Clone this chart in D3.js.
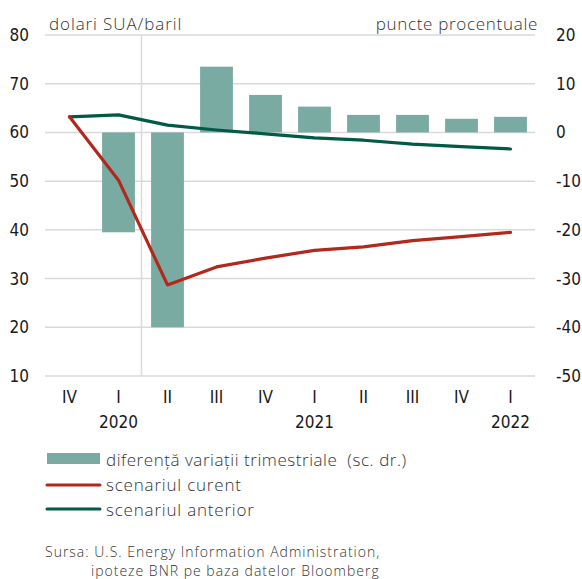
<!DOCTYPE html>
<html>
<head>
<meta charset="utf-8">
<script src="https://cdn.jsdelivr.net/npm/d3@7/dist/d3.min.js"></script>
<style>
  html, body { margin: 0; padding: 0; background: #fff; }
  svg { display: block; }
  .cond, .tick text { font-family: "DejaVu Sans", sans-serif; font-stretch: semi-condensed; }
  .light { font-family: "Open Sans", Lato, sans-serif; font-weight: 300; }
</style>
</head>
<body>
<script>
// Quarterly oil price scenarios (USD/barrel) and difference in quarterly changes (pp)
const quarters = ["IV", "I", "II", "III", "IV", "I", "II", "III", "IV", "I"];
const years = [null, "2020", null, null, null, "2021", null, null, null, "2022"];
const diffPP = [null, -20.5, -40, 13.5, 7.7, 5.3, 3.6, 3.6, 2.8, 3.2];
const currentScenario = [63.2, 50.2, 28.7, 32.4, 34.2, 35.8, 36.5, 37.8, 38.6, 39.5];
const previousScenario = [63.2, 63.6, 61.5, 60.5, 59.7, 58.9, 58.4, 57.6, 57.1, 56.6];
const leftTicks = [10, 20, 30, 40, 50, 60, 70, 80];
const rightTicks = [-50, -40, -30, -20, -10, 0, 10, 20];

const W = 582, H = 579;
const m = { left: 45, right: 47, top: 35, bottom: 203 };
const iw = W - m.left - m.right, ih = H - m.top - m.bottom;

const barColor = "#7aaba3", redColor = "#b3281d", greenColor = "#005a45";
const gridColor = "#d9d9d9", textColor = "#1a1a1a", lightText = "#333";

const svg = d3.select("body").append("svg").attr("width", W).attr("height", H);
const g = svg.append("g").attr("transform", `translate(${m.left},${m.top})`);

const idx = d3.range(quarters.length);
const x = d3.scaleBand().domain(idx).range([0, iw]).paddingInner(0.33).paddingOuter(0.165);
const xc = d3.scaleBand().domain(idx).range([0, iw]);
const yL = d3.scaleLinear().domain([10, 80]).range([ih, 0]);
const yR = d3.scaleLinear().domain([-50, 20]).range([ih, 0]);

// horizontal gridlines
g.append("g").selectAll("line").data(leftTicks).join("line")
  .attr("x1", 0).attr("x2", iw)
  .attr("y1", d => yL(d)).attr("y2", d => yL(d))
  .attr("stroke", gridColor).attr("stroke-width", 1.5);

// vertical separator between I and II 2020
g.append("line")
  .attr("x1", xc(2) - 1.5).attr("x2", xc(2) - 1.5)
  .attr("y1", 0).attr("y2", ih)
  .attr("stroke", gridColor).attr("stroke-width", 1.5);

// bars on the right axis
g.append("g").selectAll("rect").data(idx.filter(i => diffPP[i] != null)).join("rect")
  .attr("x", i => x(i)).attr("width", x.bandwidth())
  .attr("y", i => yR(Math.max(0, diffPP[i])))
  .attr("height", i => Math.abs(yR(diffPP[i]) - yR(0)))
  .attr("fill", barColor);

// lines on the left axis
const line = d3.line()
  .x((d, i) => xc(i) + xc.bandwidth() / 2)
  .y(d => yL(d));

g.append("path").datum(previousScenario).attr("d", line)
  .attr("fill", "none").attr("stroke", greenColor).attr("stroke-width", 3.2)
  .attr("stroke-linecap", "round").attr("stroke-linejoin", "round");
g.append("path").datum(currentScenario).attr("d", line)
  .attr("fill", "none").attr("stroke", redColor).attr("stroke-width", 3.2)
  .attr("stroke-linecap", "round").attr("stroke-linejoin", "round");

// axes
const axL = g.append("g").call(d3.axisLeft(yL).tickValues(leftTicks).tickSize(0).tickPadding(16));
const axR = g.append("g").attr("transform", `translate(${iw},0)`)
  .call(d3.axisRight(yR).tickValues(rightTicks).tickSize(0).tickPadding(21)
    .tickFormat(d => String(d)));
const axX = g.append("g").attr("transform", `translate(0,${ih})`)
  .call(d3.axisBottom(xc).tickFormat(i => quarters[i]).tickSize(0).tickPadding(15));
[axL, axR, axX].forEach(a => {
  a.select(".domain").remove();
  a.selectAll("text").attr("font-size", 17).attr("fill", textColor);
});

// year labels
g.append("g").selectAll("text").data(idx.filter(i => years[i])).join("text")
  .attr("class", "cond")
  .attr("x", i => xc(i) + xc.bandwidth() / 2).attr("y", ih + 52)
  .attr("text-anchor", "middle")
  .attr("font-size", 17).attr("fill", textColor)
  .text(i => years[i]);

// unit titles
svg.append("text").attr("class", "light").attr("x", 49).attr("y", 30)
  .attr("font-size", 17).attr("letter-spacing", 0.9).attr("fill", lightText)
  .text("dolari SUA/baril");
svg.append("text").attr("class", "light").attr("x", 538).attr("y", 30).attr("text-anchor", "end")
  .attr("font-size", 17).attr("letter-spacing", 0.7).attr("fill", lightText)
  .text("puncte procentuale");

// legend
const legend = svg.append("g");
legend.append("rect").attr("x", 47).attr("y", 453).attr("width", 53).attr("height", 11).attr("fill", barColor);
legend.append("line").attr("x1", 47).attr("x2", 100).attr("y1", 485).attr("y2", 485)
  .attr("stroke", redColor).attr("stroke-width", 3).attr("stroke-linecap", "round");
legend.append("line").attr("x1", 47).attr("x2", 100).attr("y1", 509).attr("y2", 509)
  .attr("stroke", greenColor).attr("stroke-width", 3).attr("stroke-linecap", "round");
const legendLabels = ["diferență variații trimestriale  (sc. dr.)", "scenariul curent", "scenariul anterior"];
legend.selectAll("text.lg").data(legendLabels).join("text").attr("class", "lg light")
  .attr("x", 106).attr("y", (d, i) => 466 + i * 25)
  .attr("font-size", 17).attr("letter-spacing", (d, i) => i === 0 ? 0.55 : 0.8).attr("fill", lightText)
  .attr("xml:space", "preserve")
  .text(d => d);

// source
const src = svg.append("g").attr("class", "light")
  .attr("font-size", 14).attr("letter-spacing", 1).attr("fill", lightText);
src.append("text").attr("x", 45).attr("y", 557).text("Sursa: U.S. Energy Information Administration,");
src.append("text").attr("x", 91).attr("y", 576).text("ipoteze BNR pe baza datelor Bloomberg");
</script>
</body>
</html>
